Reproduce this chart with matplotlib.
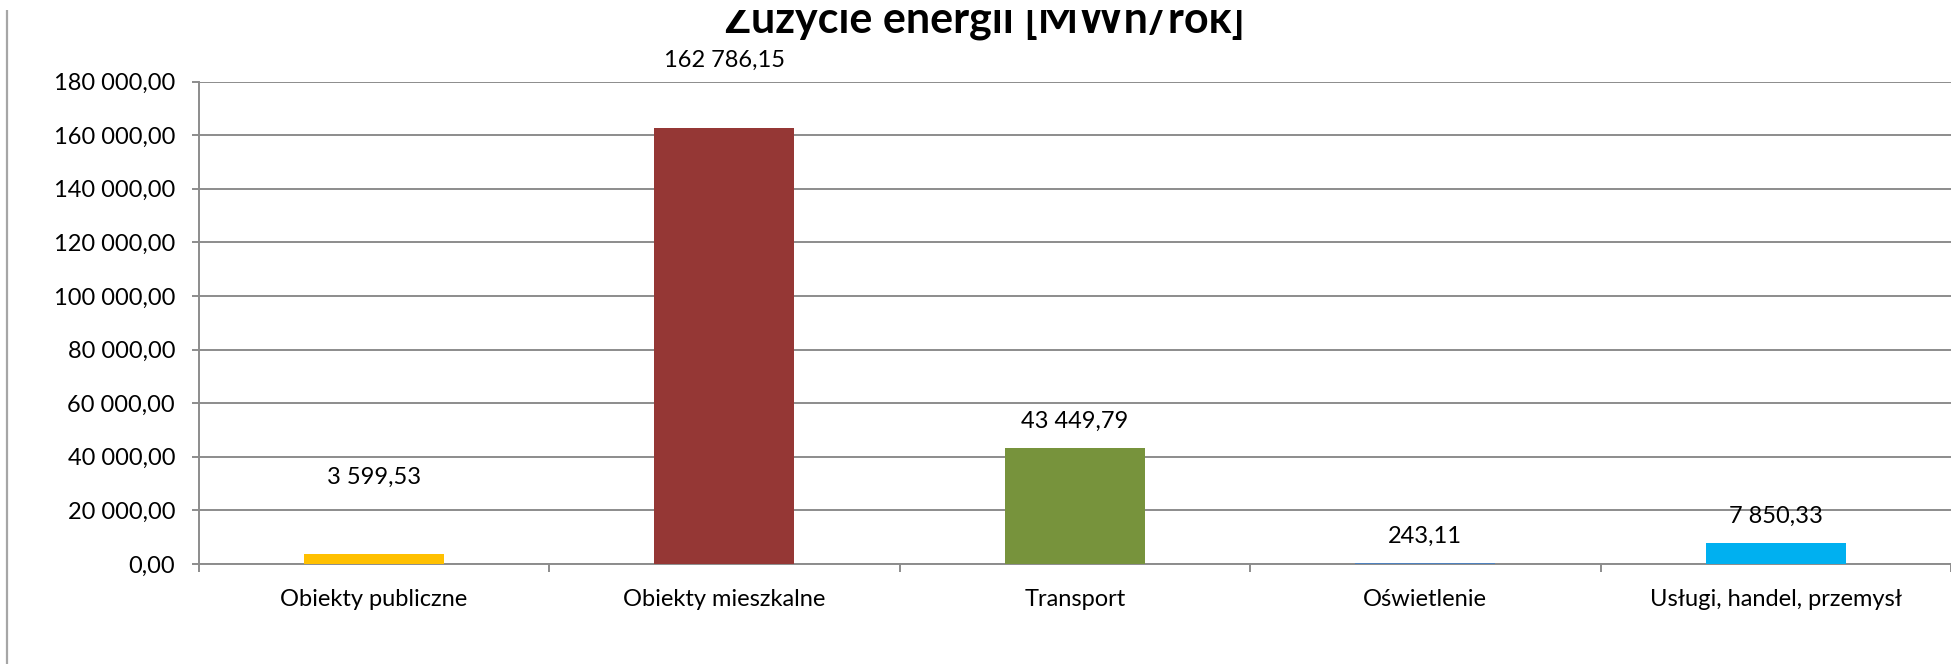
import matplotlib
matplotlib.use("Agg")
import matplotlib.pyplot as plt
from matplotlib.lines import Line2D
from matplotlib.patches import Rectangle

# Energy consumption by sector [MWh/year]
categories = ["Obiekty publiczne", "Obiekty mieszkalne", "Transport",
              "Oświetlenie", "Usługi, handel, przemysł"]
values = [3599.53, 162786.15, 43449.79, 243.11, 7850.33]
colors = ["#FFC000", "#953735", "#77933C", "#4F81BD", "#00B0F0"]
# vertical placement of each value label (data units)
label_y = [32460, 188000, 53100, 10190, 17650]
yticks = list(range(0, 180001, 20000))
title = "Zużycie energii [MWh/rok]"


def pl_number(v):
    return f"{v:,.2f}".replace(",", " ").replace(".", ",")


W, H = 1951, 664
plt.rcParams["font.family"] = ["Lato", "DejaVu Sans"]
fig = plt.figure(figsize=(W / 100, H / 100), dpi=100)
ax = fig.add_axes([198.7 / W, 1 - 564 / H, 1 - 198.7 / W, (564 - 81.6) / H])

grid_c = "#8C8C8C"
x = list(range(len(categories)))
ax.bar(x, values, width=0.4, color=colors, zorder=3)

for xi, v, ly in zip(x, values, label_y):
    ax.text(xi, ly, pl_number(v), ha="center", va="center",
            fontsize=17, color="#000000", clip_on=False, zorder=4)

ax.set_xlim(-0.5, len(categories) - 0.5)
ax.set_ylim(0, 180000)
ax.set_yticks(yticks)
ax.set_yticklabels([pl_number(t) for t in yticks])
ax.yaxis.grid(True, color=grid_c, linewidth=1.4, zorder=0)
ax.set_axisbelow(True)

ax.set_xticks(x)
ax.set_xticklabels(categories)
ax.set_xticks([i - 0.5 for i in range(len(categories) + 1)], minor=True)
ax.tick_params(axis="x", which="major", length=0, pad=18, labelsize=17)
ax.tick_params(axis="x", which="minor", length=8 * 0.72, width=1.4,
               color=grid_c, direction="out")
ax.tick_params(axis="y", length=7 * 0.72, width=1.4, color=grid_c,
               pad=12, labelsize=17)

for side in ("top", "right"):
    ax.spines[side].set_visible(False)
for side in ("left", "bottom"):
    ax.spines[side].set_color(grid_c)
    ax.spines[side].set_linewidth(1.4)

# chart title, its top cut off by the chart-area edge
fig.text(985 / W, 1 - 33 / H, title, ha="center", va="baseline",
         fontsize=31, fontweight="bold", color="#000000")
fig.add_artist(Rectangle((0, 1 - 10 / H), 1, 10 / H, transform=fig.transFigure,
                         facecolor="white", edgecolor="none", zorder=10))

# left edge of the chart area frame
fig.add_artist(Line2D([7.3 / W, 7.3 / W], [0, 1 - 10 / H],
                      transform=fig.transFigure, color="#A6A6A6",
                      linewidth=1.6))

fig.savefig("out.png", dpi=100, facecolor="white")
